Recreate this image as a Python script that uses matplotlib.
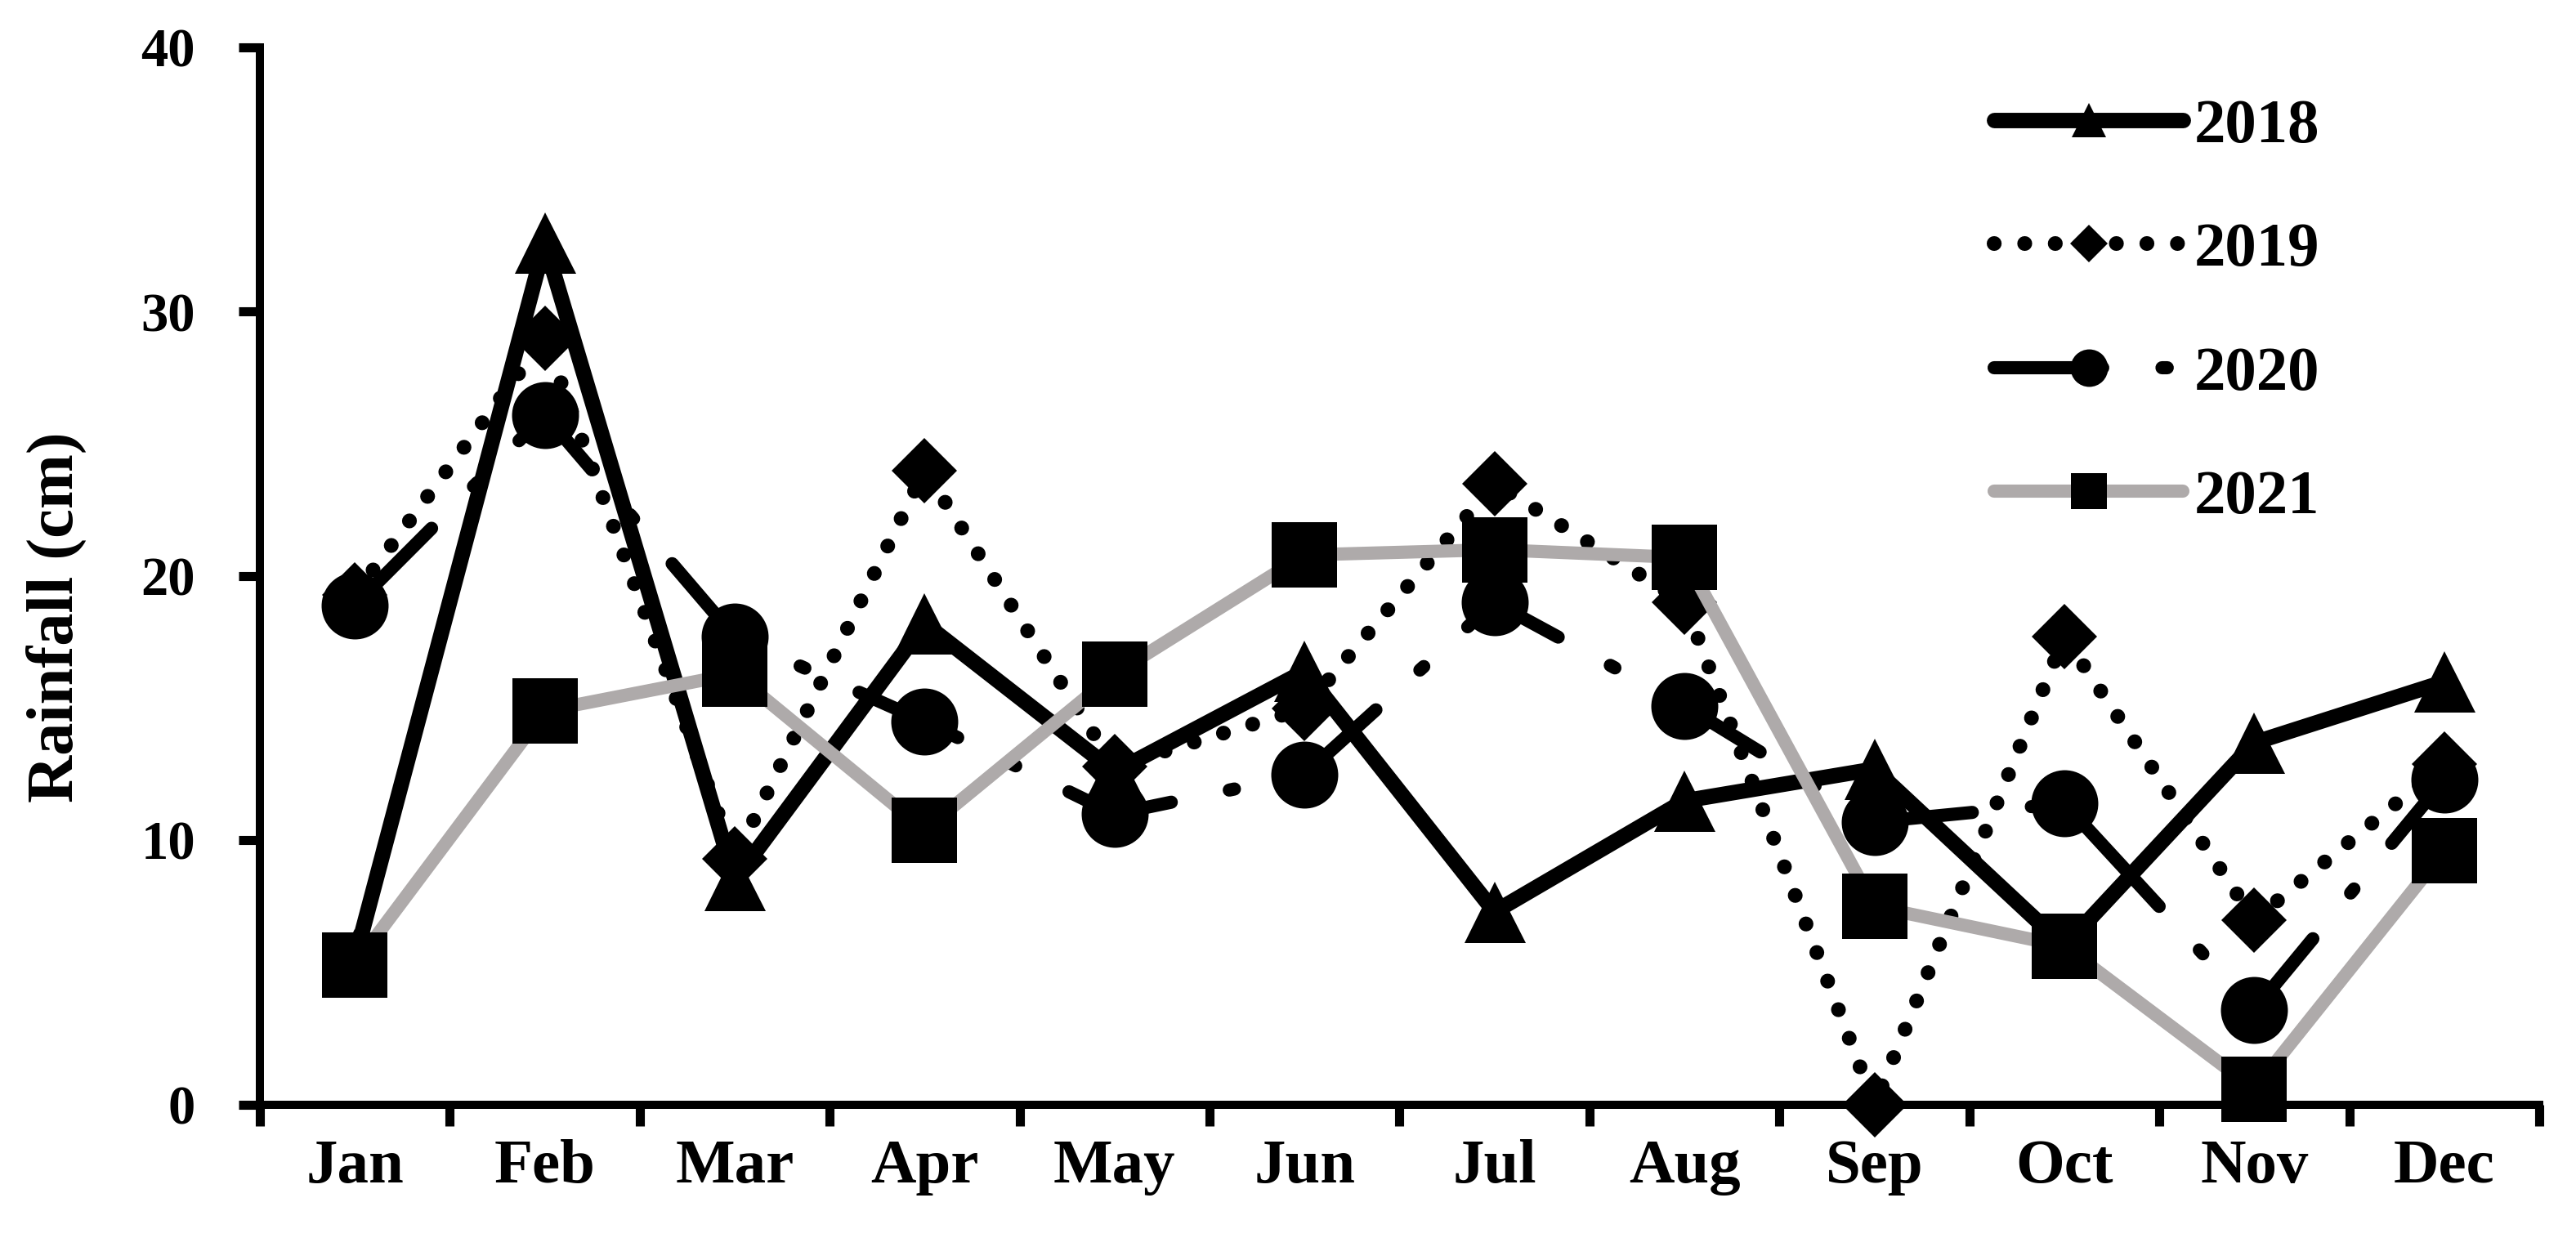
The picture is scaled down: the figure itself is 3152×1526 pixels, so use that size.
import numpy as np
import matplotlib
matplotlib.use("Agg")
import matplotlib.pyplot as plt

months = ["Jan", "Feb", "Mar", "Apr", "May", "Jun", "Jul", "Aug", "Sep", "Oct", "Nov", "Dec"]
rain_2018 = [5.5, 32.6, 8.5, 18.2, 12.6, 16.4, 7.3, 11.5, 12.7, 6.0, 13.7, 16.0]
rain_2019 = [19.3, 29.0, 9.3, 24.0, 12.8, 15.0, 23.5, 19.0, 0.0, 17.7, 7.0, 12.9]
rain_2020 = [18.9, 26.1, 17.7, 14.5, 11.0, 12.5, 19.0, 15.1, 10.7, 11.4, 3.6, 12.3]
rain_2021 = [5.3, 14.9, 16.3, 10.4, 16.3, 20.8, 21.0, 20.7, 7.5, 6.0, 0.6, 9.6]
y_ticks = [0, 10, 20, 30, 40]

plt.rcParams["font.family"] = ["Liberation Serif", "DejaVu Serif"]
plt.rcParams["font.weight"] = "bold"

fig = plt.figure(figsize=(15.76, 7.63), dpi=200)
ax = fig.add_axes([0.10089, 0.11403, 0.88483, 0.84796])

x = np.arange(1, len(months) + 1)
gray = "#AEAAAA"

ax.plot(x, rain_2018, color="black", lw=6.8, marker="^", ms=27, mew=0,
        mfc="black", label="2018", zorder=3, clip_on=False,
        solid_capstyle="round")
ax.plot(x, rain_2019, color="black", lw=6.5, ls=(0, (0.01, 2.06)),
        dash_capstyle="round", marker="D", ms=20.6, mew=0, mfc="black",
        label="2019", zorder=4, clip_on=False)
ax.plot(x, rain_2020, color="black", lw=5.8, ls=(0, (8.25, 4.5, 0.4, 4.5)),
        dash_capstyle="round", marker="o", ms=29.5, mew=0, mfc="black",
        label="2020", zorder=5, clip_on=False)
ax.plot(x, rain_2021, color=gray, lw=5.8, marker="s", ms=28.8, mew=0,
        mfc="black", label="2021", zorder=6, clip_on=False,
        solid_capstyle="round")

ax.set_xlim(0.5, len(months) + 0.5)
ax.set_ylim(0, 40)
ax.set_xticks(np.arange(0.5, len(months) + 1, 1))
ax.set_xticklabels([])
ax.set_xticks(x, minor=True)
ax.set_xticklabels(months, minor=True)
ax.set_yticks(y_ticks)
ax.set_yticklabels([str(v) for v in y_ticks])

ax.tick_params(axis="x", which="major", length=9.4, width=4, direction="out")
ax.tick_params(axis="x", which="minor", length=0, pad=15, labelsize=27.7)
ax.tick_params(axis="y", which="major", length=9.4, width=4, direction="out",
               pad=19, labelsize=24)

for s in ["top", "right"]:
    ax.spines[s].set_visible(False)
for s in ["left", "bottom"]:
    ax.spines[s].set_linewidth(3.6)

fig.text(0.0219, 0.5052, "Rainfall (cm)", rotation=90, ha="center",
         va="center", fontsize=29, fontweight="bold")

ax.legend(loc="upper left", bbox_to_anchor=(0.761, 0.952), frameon=False,
          fontsize=27.7, handlelength=3.0, handletextpad=0.17,
          labelspacing=1.06, markerscale=0.56, borderpad=0, borderaxespad=0)

fig.savefig("out.png", dpi=200)
